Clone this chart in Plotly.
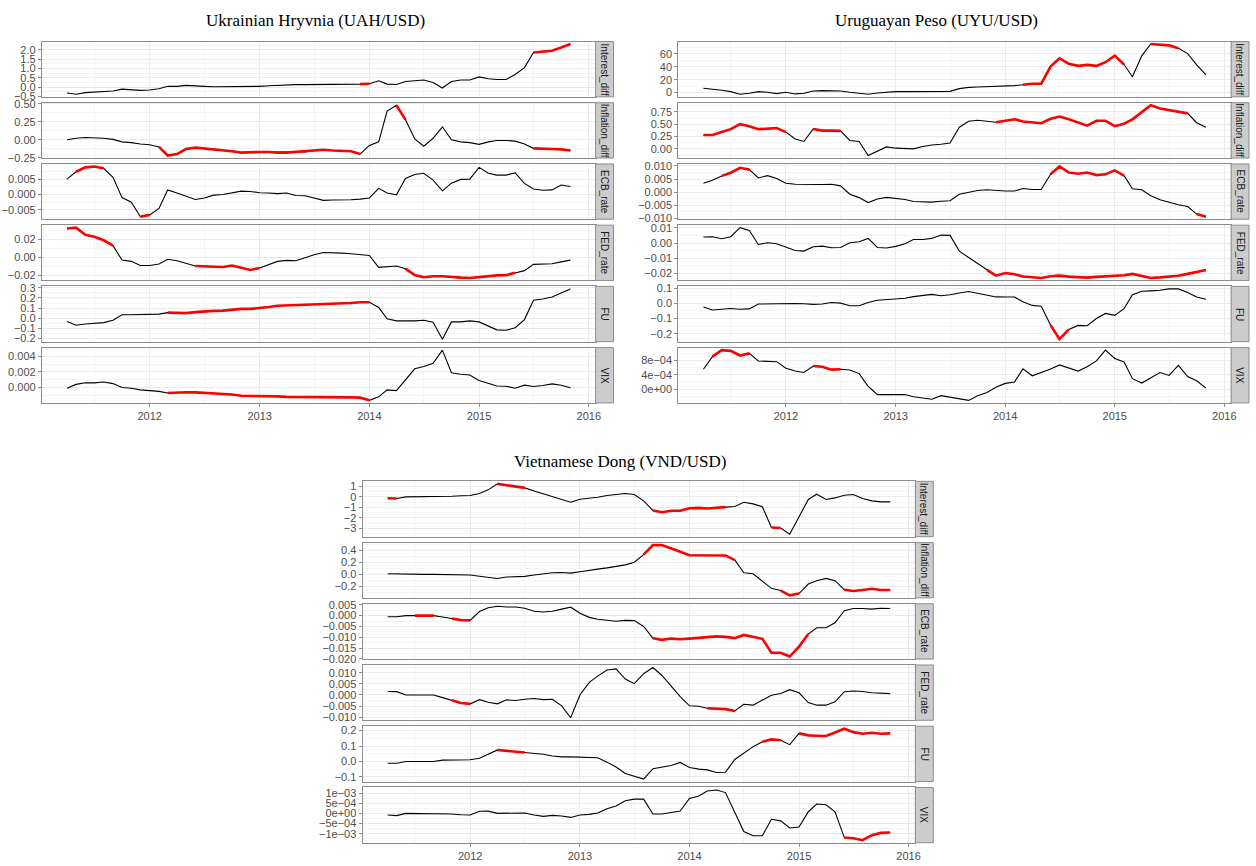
import numpy as np
import pandas as pd
import plotly.graph_objects as go

# ---------------- data ----------------
dates = pd.date_range("2011-04-01", periods=56, freq="MS")
variables = ["Interest_diff", "Inflation_diff", "ECB_rate", "FED_rate", "FU", "VIX"]
year_ticks = ["2012", "2013", "2014", "2015", "2016"]

uah_interest = [-0.32, -0.39, -0.30, -0.27, -0.23, -0.21, -0.11, -0.14, -0.18, -0.16,
                -0.09, 0.04, 0.04, 0.09, 0.05, 0.04, 0.02, 0.02, 0.05, 0.04,
                0.04, 0.04, 0.07, 0.09, 0.13, 0.13, 0.13, 0.13, 0.13, 0.14,
                0.14, 0.14, 0.16, 0.18, 0.34, 0.16, 0.14, 0.30, 0.34, 0.38,
                0.25, -0.05, 0.30, 0.38, 0.38, 0.55, 0.45, 0.41, 0.41, 0.68,
                1.05, 1.86, 1.93, 1.96, 2.13, 2.32]
uah_inflation = [0.00, 0.02, 0.03, 0.03, 0.02, 0.005, -0.03, -0.04, -0.06, -0.07,
                 -0.10, -0.22, -0.20, -0.13, -0.11, -0.12, -0.14, -0.15, -0.16, -0.18,
                 -0.17, -0.17, -0.17, -0.18, -0.18, -0.17, -0.17, -0.15, -0.14, -0.15,
                 -0.15, -0.16, -0.20, -0.08, -0.03, 0.40, 0.48, 0.28, 0.01, -0.09,
                 0.02, 0.18, 0.00, -0.03, -0.04, -0.065, -0.03, -0.01, -0.01, -0.02,
                 -0.06, -0.12, -0.13, -0.13, -0.135, -0.15]
uah_ecb = [0.0050, 0.0074, 0.0088, 0.0091, 0.0085, 0.0056, -0.0010, -0.0025, -0.0072, -0.0066,
           -0.0045, 0.0015, 0.0005, -0.0005, -0.0016, -0.0011, -0.0002, 0.0000, 0.0005, 0.0011,
           0.0010, 0.0006, 0.0005, 0.0003, 0.0005, -0.0003, -0.0004, -0.0012, -0.0019, -0.0018,
           -0.0018, -0.0017, -0.0015, -0.0011, 0.0020, 0.0005, -0.0001, 0.0052, 0.0065, 0.0069,
           0.0047, 0.0012, 0.0037, 0.0049, 0.0050, 0.0088, 0.0069, 0.0063, 0.0063, 0.0070,
           0.0036, 0.0018, 0.0014, 0.0015, 0.0031, 0.0026]
uah_fed = [0.032, 0.033, 0.025, 0.023, 0.019, 0.013, -0.003, -0.0044, -0.009, -0.009,
           -0.0073, -0.002, -0.0037, -0.0066, -0.0095, -0.010, -0.0106, -0.0106, -0.009, -0.0117,
           -0.014, -0.0117, -0.008, -0.0044, -0.0033, -0.0037, -0.0004, 0.003, 0.0055, 0.0055,
           0.0048, 0.004, 0.0033, 0.0022, -0.011, -0.010, -0.0095, -0.0125, -0.0195, -0.022,
           -0.021, -0.021, -0.022, -0.0224, -0.0228, -0.0217, -0.021, -0.020, -0.0198, -0.0169,
           -0.0147, -0.0077, -0.007, -0.007, -0.005, -0.003]
uah_fu = [-0.034, -0.07, -0.058, -0.05, -0.044, -0.02, 0.034, 0.034, 0.037, 0.04,
          0.04, 0.055, 0.055, 0.05, 0.06, 0.068, 0.072, 0.075, 0.085, 0.092,
          0.092, 0.099, 0.11, 0.123, 0.126, 0.13, 0.133, 0.137, 0.14, 0.147,
          0.147, 0.15, 0.157, 0.157, 0.106, -0.007, -0.027, -0.03, -0.027, -0.02,
          -0.04, -0.208, -0.037, -0.037, -0.027, -0.037, -0.075, -0.116, -0.12, -0.095,
          -0.014, 0.177, 0.19, 0.21, 0.25, 0.29]
uah_vix = [-0.0001, 0.0004, 0.0006, 0.0006, 0.0007, 0.0005, 0.0, -0.0001, -0.0003, -0.0004,
           -0.0005, -0.0007, -0.00063, -0.0006, -0.00063, -0.0007, -0.00072, -0.00076, -0.0009, -0.00106,
           -0.00106, -0.00106, -0.0011, -0.00114, -0.0012, -0.0012, -0.0012, -0.0012, -0.00123, -0.00127,
           -0.00127, -0.00127, -0.0013, -0.00165, -0.0012, -0.0003, -0.0004, 0.001, 0.0024, 0.0027,
           0.0031, 0.0048, 0.0019, 0.0017, 0.0016, 0.0009, 0.00055, 0.0002, 0.00017, -0.0001,
           0.0003, 0.00013, 0.00025, 0.00047, 0.0003, -0.00004]

uyu_interest = [6.7, 5.6, 3.6, 1.5, -2.6, -1.0, 1.5, 0.5, -1.5, 0.5,
                -2.0, -1.0, 2.6, 3.1, 3.1, 2.6, 0.5, -1.0, -2.6, -0.5,
                1.0, 1.5, 1.5, 1.5, 1.5, 1.5, 1.5, 2.0, 6.2, 8.2,
                8.7, 9.2, 9.7, 10.3, 10.8, 12.3, 13.8, 13.8, 40.5, 53.3,
                44.6, 41.5, 43.0, 41.5, 47.2, 57.4, 43.6, 24.6, 57.0, 75.4,
                74.9, 73.3, 69.0, 60.5, 43.0, 27.7]
uyu_inflation = [0.28, 0.28, 0.34, 0.40, 0.50, 0.46, 0.40, 0.405, 0.42, 0.34,
                 0.20, 0.15, 0.405, 0.37, 0.37, 0.365, 0.17, 0.15, -0.135, -0.05,
                 0.04, 0.014, 0.007, 0.0, 0.047, 0.08, 0.095, 0.12, 0.44, 0.56,
                 0.58, 0.56, 0.54, 0.57, 0.60, 0.555, 0.53, 0.52, 0.61, 0.655,
                 0.60, 0.53, 0.47, 0.57, 0.57, 0.46, 0.51, 0.60, 0.74, 0.885,
                 0.82, 0.79, 0.75, 0.72, 0.53, 0.44]
uyu_ecb = [0.0034, 0.0045, 0.0062, 0.0074, 0.0093, 0.0086, 0.0054, 0.0063, 0.0052, 0.0034,
           0.0030, 0.0029, 0.0028, 0.0029, 0.0030, 0.0024, -0.0008, -0.0021, -0.0040, -0.0026,
           -0.0020, -0.0023, -0.0028, -0.0036, -0.0036, -0.0038, -0.0035, -0.0033, -0.0008, 0.0000,
           0.0006, 0.0009, 0.0006, 0.0004, 0.0004, 0.0014, 0.0010, 0.0010, 0.0068, 0.0098,
           0.0075, 0.0070, 0.0075, 0.0065, 0.0068, 0.0083, 0.0063, 0.0013, 0.0009, -0.0014,
           -0.0029, -0.0039, -0.0048, -0.0055, -0.0084, -0.0094]
uyu_fed = [0.0040, 0.0042, 0.0029, 0.0042, 0.0102, 0.0084, -0.0009, 0.0002, -0.0004, -0.0029,
           -0.0049, -0.0053, -0.0024, -0.0020, -0.0031, -0.0029, 0.0002, 0.0009, 0.0031, -0.0029,
           -0.0033, -0.0022, -0.0004, 0.0024, 0.0024, 0.0031, 0.0053, 0.0051, -0.0053, -0.0096,
           -0.0136, -0.0178, -0.0216, -0.0198, -0.0207, -0.0222, -0.0227, -0.0231, -0.0220, -0.0216,
           -0.0222, -0.0227, -0.0229, -0.0224, -0.0220, -0.0220, -0.0213, -0.0204, -0.0220, -0.0231,
           -0.0227, -0.0222, -0.0216, -0.0204, -0.0191, -0.0178]
uyu_fu = [-0.023, -0.043, -0.038, -0.034, -0.038, -0.036, -0.004, -0.002, 0.0, 0.0,
          0.0, -0.002, -0.006, -0.004, 0.006, 0.002, -0.015, -0.015, 0.006, 0.021,
          0.026, 0.028, 0.034, 0.045, 0.053, 0.06, 0.051, 0.057, 0.069, 0.079,
          0.067, 0.054, 0.043, 0.042, 0.042, 0.011, -0.013, -0.019, -0.143, -0.236,
          -0.172, -0.145, -0.147, -0.10, -0.066, -0.079, -0.034, 0.057, 0.08, 0.083,
          0.087, 0.096, 0.096, 0.072, 0.043, 0.028]
uyu_vix = [0.00055, 0.0009, 0.00108, 0.00106, 0.00093, 0.00099, 0.00078, 0.00078, 0.00076, 0.00058,
           0.0005, 0.00046, 0.00064, 0.00062, 0.00054, 0.00055, 0.00053, 0.00043, 0.00008, -0.00015,
           -0.00015, -0.00014, -0.00015, -0.00021, -0.00025, -0.00028, -0.00018, -0.00022, -0.00028, -0.00031,
           -0.00018, -0.00009, 0.00005, 0.00016, 0.0002, 0.00056, 0.00037, 0.00046, 0.00056, 0.00067,
           0.00058, 0.0005, 0.00062, 0.00078, 0.00108, 0.00085, 0.00075, 0.00029, 0.00017, 0.00032,
           0.00046, 0.00038, 0.00066, 0.00035, 0.00023, 0.00003]

vnd_interest = [-0.13, -0.16, 0, 0, 0, 0, 0.03, 0.06, 0.1, 0.13,
                0.32, 0.67, 1.24, 1.11, 0.98, 0.86, 0.57, 0.29, 0, -0.29,
                -0.51, -0.22, -0.13, -0.03, 0.13, 0.19, 0.32, 0.22, -0.38, -1.3,
                -1.46, -1.33, -1.33, -1.08, -1.05, -1.11, -1.02, -0.98, -0.92, -0.51,
                -0.67, -0.95, -2.92, -2.98, -3.56, -1.84, -0.25, 0.25, -0.25, -0.1,
                0.16, 0.22, -0.16, -0.38, -0.48, -0.48]
vnd_inflation = [0.01, 0.005, 0, 0, 0, 0, 0, 0, 0, -0.01,
                 -0.03, -0.05, -0.067, -0.044, -0.04, -0.033, -0.01, 0.01, 0.028, 0.033,
                 0.022, 0.044, 0.072, 0.089, 0.11, 0.14, 0.16, 0.205, 0.33, 0.49,
                 0.49, 0.44, 0.38, 0.32, 0.32, 0.32, 0.317, 0.317, 0.24, 0.028,
                 0.01, -0.117, -0.233, -0.27, -0.35, -0.32, -0.16, -0.105, -0.067, -0.105,
                 -0.255, -0.278, -0.26, -0.24, -0.26, -0.26]
vnd_ecb = [-0.0005, -0.0005, 0, 0, 0, 0, -0.0006, -0.0014, -0.002, -0.0022,
           0.0019, 0.0036, 0.0043, 0.004, 0.004, 0.0034, 0.002, 0.0017, 0.002, 0.003,
           0.0039, 0.0011, -0.0008, -0.0017, -0.0023, -0.0026, -0.0022, -0.0023, -0.005, -0.0104,
           -0.0112, -0.0106, -0.0109, -0.0106, -0.0102, -0.0099, -0.0096, -0.0098, -0.0104, -0.0089,
           -0.0099, -0.0107, -0.0171, -0.0172, -0.0189, -0.0143, -0.0085, -0.0056, -0.0056, -0.0033,
           0.0023, 0.0033, 0.0033, 0.003, 0.0034, 0.0033]
vnd_fed = [0.0016, 0.0015, 0, 0, 0, 0, -0.0012, -0.0024, -0.0036, -0.004,
           -0.0021, -0.0033, -0.004, -0.0022, -0.0025, -0.0019, -0.0016, -0.0021, -0.0019, -0.0049,
           -0.0103, 0.0001, 0.0057, 0.0085, 0.0113, 0.0118, 0.0072, 0.0051, 0.0096, 0.0124,
           0.0088, 0.004, -0.0007, -0.0049, -0.0051, -0.006, -0.0063, -0.0064, -0.0072, -0.0042,
           -0.0046, -0.0025, -0.0001, 0.0007, 0.0024, 0.001, -0.0034, -0.0046, -0.0046, -0.0031,
           0.0015, 0.0018, 0.0016, 0.001, 0.0009, 0.0006]
vnd_fu = [-0.011, -0.011, 0, 0, 0, 0, 0.009, 0.009, 0.011, 0.011,
          0.021, 0.049, 0.075, 0.069, 0.064, 0.058, 0.054, 0.047, 0.036, 0.03,
          0.03, 0.028, 0.028, 0.024, -0.004, -0.036, -0.077, -0.096, -0.113, -0.047,
          -0.036, -0.026, -0.006, -0.039, -0.049, -0.054, -0.071, -0.069, 0.013, 0.051,
          0.096, 0.128, 0.143, 0.137, 0.109, 0.182, 0.169, 0.167, 0.165, 0.188,
          0.212, 0.19, 0.18, 0.186, 0.18, 0.182]
vnd_vix = [-0.00008, -0.00011, 0, 0, 0, 0, -0.00003, -0.00003, -0.00007, -0.00008,
           0.0001, 0.00011, 0, 0, 0.00002, 0.00002, -0.00008, -0.00015, -0.0001, -0.00013,
           -0.0002, -0.00008, -0.00005, 0.00002, 0.00023, 0.00036, 0.00062, 0.0007, 0.0007, -0.00003,
           -0.00003, 0.00005, 0.00011, 0.00073, 0.00085, 0.0011, 0.00115, 0.00102, 0.00002, -0.00089,
           -0.0011, -0.0011, -0.00029, -0.00037, -0.00072, -0.00067, 0.00008, 0.00046, 0.00042, 0.00007,
           -0.00119, -0.00122, -0.00132, -0.00107, -0.00096, -0.00094]

# highlighted (red) index ranges, inclusive
uah_red = [[(32, 33), (51, 55)], [(10, 32), (36, 37), (51, 55)], [(1, 4), (8, 9)],
           [(0, 5), (14, 21), (37, 49)], [(11, 33)], [(11, 33)]]
uyu_red = [[(35, 46), (49, 52)], [(0, 9), (12, 15), (32, 53)], [(2, 5), (38, 46), (54, 55)],
           [(31, 55)], [(38, 40)], [(1, 5), (12, 15)]]
vnd_red = [[(0, 1), (12, 15), (29, 37), (42, 43)], [(28, 38), (43, 45), (50, 55)],
           [(3, 5), (7, 9), (29, 46)], [(7, 9), (35, 38)], [(12, 15), (41, 43), (45, 55)], [(50, 55)]]

M = "\u2212"
uah_ticks = [([-0.5, 0, 0.5, 1, 1.5, 2], [M + "0.5", "0.0", "0.5", "1.0", "1.5", "2.0"]),
             ([-0.25, 0, 0.25, 0.5], [M + "0.25", "0.00", "0.25", "0.50"]),
             ([-0.005, 0, 0.005, 0.01], [M + "0.005", "0.000", "0.005", "0.010"]),
             ([-0.02, 0, 0.02], [M + "0.02", "0.00", "0.02"]),
             ([-0.2, -0.1, 0, 0.1, 0.2, 0.3], [M + "0.2", M + "0.1", "0.0", "0.1", "0.2", "0.3"]),
             ([-0.002, 0, 0.002, 0.004], [M + "0.002", "0.000", "0.002", "0.004"])]
uyu_ticks = [([0, 20, 40, 60], ["0", "20", "40", "60"]),
             ([0, 0.25, 0.5, 0.75], ["0.00", "0.25", "0.50", "0.75"]),
             ([-0.01, -0.005, 0, 0.005, 0.01], [M + "0.010", M + "0.005", "0.000", "0.005", "0.010"]),
             ([-0.02, -0.01, 0, 0.01], [M + "0.02", M + "0.01", "0.00", "0.01"]),
             ([-0.2, -0.1, 0, 0.1], [M + "0.2", M + "0.1", "0.0", "0.1"]),
             ([0, 0.0004, 0.0008], ["0e+00", "4e" + M + "04", "8e" + M + "04"])]
vnd_ticks = [([-3, -2, -1, 0, 1], [M + "3", M + "2", M + "1", "0", "1"]),
             ([-0.2, 0, 0.2, 0.4], [M + "0.2", "0.0", "0.2", "0.4"]),
             ([-0.02, -0.015, -0.01, -0.005, 0, 0.005],
              [M + "0.020", M + "0.015", M + "0.010", M + "0.005", "0.000", "0.005"]),
             ([-0.01, -0.005, 0, 0.005, 0.01], [M + "0.010", M + "0.005", "0.000", "0.005", "0.010"]),
             ([-0.1, 0, 0.1, 0.2], [M + "0.1", "0.0", "0.1", "0.2"]),
             ([-0.001, -0.0005, 0, 0.0005, 0.001],
              [M + "1e" + M + "03", M + "5e" + M + "04", "0e+00", "5e" + M + "04", "1e" + M + "03"])]

# ---------------- layout ----------------
W, H = 1256, 866
panels = [
    dict(title="Ukrainian Hryvnia (UAH/USD)", tx=317, ty=16, x0=42, x1=598, top=37,
         series=[uah_interest, uah_inflation, uah_ecb, uah_fed, uah_fu, uah_vix],
         red=uah_red, ticks=uah_ticks),
    dict(title="Uruguayan Peso (UYU/USD)", tx=940, ty=16, x0=681, x1=1236, top=37,
         series=[uyu_interest, uyu_inflation, uyu_ecb, uyu_fed, uyu_fu, uyu_vix],
         red=uyu_red, ticks=uyu_ticks),
    dict(title="Vietnamese Dong (VND/USD)", tx=622, ty=462, x0=364, x1=919, top=482.5,
         series=[vnd_interest, vnd_inflation, vnd_ecb, vnd_fed, vnd_fu, vnd_vix],
         red=vnd_red, ticks=vnd_ticks),
]
ROW_H, ROW_STEP, STRIP_W = 56, 62, 18
BORDER = "#8C8C8C"
GRID = "#EBEBEB"
GRID_MINOR = "#F4F4F4"
TICKFONT = dict(family="Liberation Sans, Arial, sans-serif", size=11, color="#4D4D4D")

span = dates[-1] - dates[0]
xrange = [dates[0] - span * 0.05, dates[-1] + span * 0.05]
xmajor = [pd.Timestamp(f"{y}-01-01") for y in year_ticks]
xminor = [pd.Timestamp(f"{y}-07-01") for y in range(2011, 2016)]

fig = go.Figure()
layout = dict(width=W, height=H, margin=dict(l=0, r=0, t=0, b=0),
              paper_bgcolor="white", plot_bgcolor="white", showlegend=False,
              shapes=[], annotations=[])

k = 0
for p in panels:
    layout["annotations"].append(dict(
        text=p["title"], x=p["tx"] / W, y=1 - p["ty"] / H, xref="paper", yref="paper",
        xanchor="center", yanchor="middle", showarrow=False,
        font=dict(family="Liberation Serif, Times New Roman, serif", size=17, color="#000000")))
    for r, (vals, reds, (tv, tt)) in enumerate(zip(p["series"], p["red"], p["ticks"])):
        k += 1
        sfx = "" if k == 1 else str(k)
        top = p["top"] + r * ROW_STEP
        bot = top + ROW_H
        arr = np.array(vals, dtype=float)
        lo, hi = arr.min(), arr.max()
        pad = (hi - lo) * 0.05
        yr = [lo - pad, hi + pad]
        step = tv[1] - tv[0]
        yminor = [v + step / 2 for v in [tv[0] - step] + list(tv)]
        yminor = [v for v in yminor if yr[0] <= v <= yr[1]]

        fig.add_trace(go.Scatter(x=dates, y=vals, mode="lines",
                                 line=dict(color="#000000", width=1.1),
                                 xaxis="x" + sfx, yaxis="y" + sfx, hoverinfo="skip"))
        red_y = [None] * len(vals)
        for a, b in reds:
            for i in range(a, b + 1):
                red_y[i] = vals[i]
        fig.add_trace(go.Scatter(x=dates, y=red_y, mode="lines", connectgaps=False,
                                 line=dict(color="#FF0000", width=2.6),
                                 xaxis="x" + sfx, yaxis="y" + sfx, hoverinfo="skip"))

        bottom_row = (r == len(variables) - 1)
        layout["xaxis" + sfx] = dict(
            domain=[p["x0"] / W, p["x1"] / W], anchor="y" + sfx, type="date",
            range=xrange, tickmode="array", tickvals=xmajor, ticktext=year_ticks,
            showticklabels=bottom_row, ticks="outside" if bottom_row else "",
            ticklen=3, tickcolor=BORDER, tickfont=TICKFONT,
            showgrid=True, gridcolor=GRID, gridwidth=1,
            minor=dict(tickmode="array", tickvals=xminor, showgrid=True,
                       gridcolor=GRID_MINOR, gridwidth=1, ticks=""),
            showline=True, mirror=True, linecolor=BORDER, linewidth=1, zeroline=False)
        layout["yaxis" + sfx] = dict(
            domain=[1 - bot / H, 1 - top / H], anchor="x" + sfx, range=yr,
            tickmode="array", tickvals=tv, ticktext=tt, ticks="outside", ticklen=3,
            tickcolor=BORDER, tickfont=TICKFONT,
            showgrid=True, gridcolor=GRID, gridwidth=1,
            minor=dict(tickmode="array", tickvals=yminor, showgrid=True,
                       gridcolor=GRID_MINOR, gridwidth=1, ticks=""),
            showline=True, mirror=True, linecolor=BORDER, linewidth=1, zeroline=False)

        # facet strip
        layout["shapes"].append(dict(
            type="rect", xref="paper", yref="paper",
            x0=p["x1"] / W, x1=(p["x1"] + STRIP_W) / W, y0=1 - bot / H, y1=1 - top / H,
            fillcolor="#CCCCCC", line=dict(color=BORDER, width=1), layer="above"))
        layout["annotations"].append(dict(
            text=variables[r], x=(p["x1"] + STRIP_W / 2) / W, y=1 - (top + ROW_H / 2) / H,
            xref="paper", yref="paper", xanchor="center", yanchor="middle",
            showarrow=False, textangle=90,
            font=dict(family="Liberation Sans, Arial, sans-serif", size=10, color="#1A1A1A")))

fig.update_layout(**layout)
fig.write_html("out.html")
